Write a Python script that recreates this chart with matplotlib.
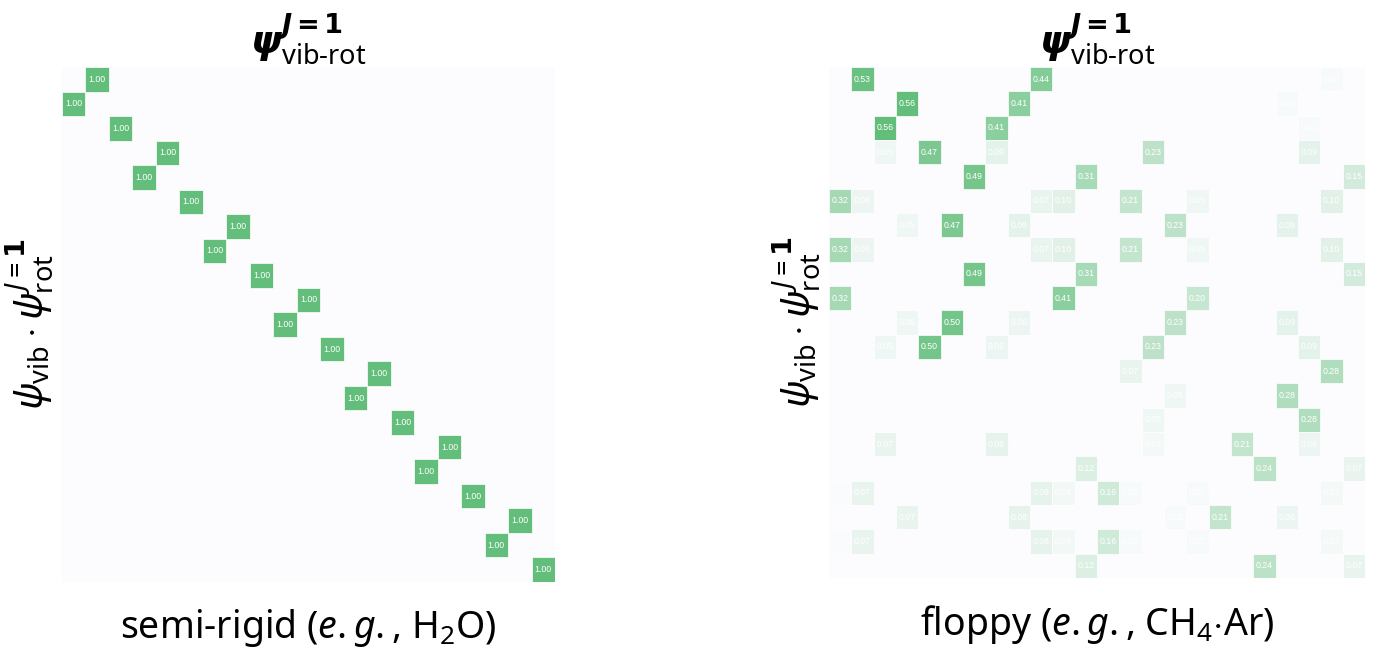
import numpy as np
import matplotlib
matplotlib.use("Agg")
import matplotlib.pyplot as plt
from matplotlib.colors import LinearSegmentedColormap, Normalize
from matplotlib.patches import Rectangle

plt.rcParams['font.family'] = ['Noto Sans', 'DejaVu Sans']
plt.rcParams['mathtext.fontset'] = 'custom'
plt.rcParams['mathtext.rm'] = 'Noto Sans'
plt.rcParams['mathtext.it'] = 'Noto Sans:italic'
plt.rcParams['mathtext.bf'] = 'DejaVu Sans:bold'
plt.rcParams['mathtext.bfit'] = 'DejaVu Sans:bold:italic'

# ---------------- data ----------------
# semi-rigid (H2O): 21 x 21 overlap matrix, one 1.00 per row
left_n = 21
left_cols = [1, 0, 2, 4, 3, 5, 7, 6, 8, 10, 9, 11, 13, 12, 14, 16, 15, 17, 19, 18, 20]
left_vals = [1.00] * 21

# floppy (CH4.Ar): 21 rows x 24 cols, non-zero entries
right_shape = (21, 24)
right_rows = [0, 0, 0,
              1, 1, 1,
              2, 2, 2,
              3, 3, 3, 3, 3,
              4, 4, 4,
              5, 5, 5, 5, 5, 5, 5,
              6, 6, 6, 6, 6,
              7, 7, 7, 7, 7, 7, 7,
              8, 8, 8,
              9, 9, 9,
              10, 10, 10, 10, 10,
              11, 11, 11, 11, 11,
              12, 12,
              13, 13,
              14, 14,
              15, 15, 15, 15, 15,
              16, 16, 16,
              17, 17, 17, 17, 17, 17, 17, 17,
              18, 18, 18, 18, 18,
              19, 19, 19, 19, 19, 19, 19, 19,
              20, 20, 20]
right_cols = [1, 9, 22,
              3, 8, 20,
              2, 7, 21,
              2, 4, 7, 14, 21,
              6, 11, 23,
              0, 1, 9, 10, 13, 16, 22,
              3, 5, 8, 15, 20,
              0, 1, 9, 10, 13, 16, 22,
              6, 11, 23,
              0, 10, 16,
              3, 5, 8, 15, 20,
              2, 4, 7, 14, 21,
              13, 22,
              15, 20,
              14, 21,
              2, 7, 14, 18, 21,
              11, 19, 23,
              0, 1, 9, 10, 12, 13, 16, 22,
              3, 8, 15, 17, 20,
              0, 1, 9, 10, 12, 13, 16, 22,
              11, 19, 23]
right_vals = [0.53, 0.44, 0.02,
              0.56, 0.41, 0.02,
              0.56, 0.41, 0.02,
              0.05, 0.47, 0.09, 0.23, 0.09,
              0.49, 0.31, 0.15,
              0.32, 0.06, 0.07, 0.10, 0.21, 0.05, 0.10,
              0.05, 0.47, 0.09, 0.23, 0.09,
              0.32, 0.06, 0.07, 0.10, 0.21, 0.05, 0.10,
              0.49, 0.31, 0.15,
              0.32, 0.41, 0.20,
              0.05, 0.50, 0.06, 0.23, 0.09,
              0.05, 0.50, 0.06, 0.23, 0.09,
              0.07, 0.28,
              0.05, 0.28,
              0.05, 0.28,
              0.07, 0.08, 0.03, 0.21, 0.06,
              0.12, 0.24, 0.07,
              0.01, 0.07, 0.08, 0.04, 0.16, 0.02, 0.02, 0.03,
              0.07, 0.08, 0.02, 0.21, 0.06,
              0.01, 0.07, 0.08, 0.04, 0.16, 0.02, 0.02, 0.03,
              0.12, 0.24, 0.07]

title_text = r'$\mathbfit{\psi}^{\mathbfit{J}\mathbf{=1}}_{\text{vib-rot}}$'
ylabel_text = r'$\psi_{\mathrm{vib}}\cdot\psi_{\mathrm{rot}}^{J{=}\mathbf{1}}$'
left_xlabel = r'semi-rigid ($\mathit{e.g.}$, H$_2$O)'
right_xlabel = r'floppy ($\mathit{e.g.}$, CH$_4$$\cdot$Ar)'

# ---------------- build matrices ----------------
L = np.zeros((left_n, left_n))
for r, (c, v) in enumerate(zip(left_cols, left_vals)):
    L[r, c] = v
R = np.zeros(right_shape)
for r, c, v in zip(right_rows, right_cols, right_vals):
    R[r, c] = v

cmap = LinearSegmentedColormap.from_list('xl', ['#FCFCFF', '#63BE7B'])

fig = plt.figure(figsize=(13.83, 6.57), dpi=100)
axL = fig.add_axes([62 / 1383, 1 - 582 / 657, 493 / 1383, 515 / 657])
axR = fig.add_axes([829 / 1383, 1 - 578 / 657, 536 / 1383, 511 / 657])


def draw(ax, M, xlabel):
    vmax = M.max()
    norm = Normalize(0, vmax)
    nr, nc = M.shape
    ax.set_facecolor(cmap(norm(0.0)))
    for r in range(nr):
        for c in range(nc):
            if M[r, c] > 0:
                ax.add_patch(Rectangle((c, r), 1, 1,
                                       facecolor=cmap(norm(M[r, c])),
                                       edgecolor='white', linewidth=0.5))
            ax.text(c + 0.5, r + 0.5, f'{M[r, c]:.2f}', color='white',
                    ha='center', va='center', fontsize=6.3,
                    family='Liberation Sans')
    ax.set_xlim(0, nc)
    ax.set_ylim(nr, 0)
    ax.set_xticks([])
    ax.set_yticks([])
    for s in ax.spines.values():
        s.set_visible(False)
    ax.set_title(title_text, fontsize=28, pad=2)
    ax.set_ylabel(ylabel_text, fontsize=28, labelpad=4)
    ax.set_xlabel(xlabel, fontsize=27, labelpad=18)


draw(axL, L, left_xlabel)
draw(axR, R, right_xlabel)

fig.savefig('out.png', dpi=100)
